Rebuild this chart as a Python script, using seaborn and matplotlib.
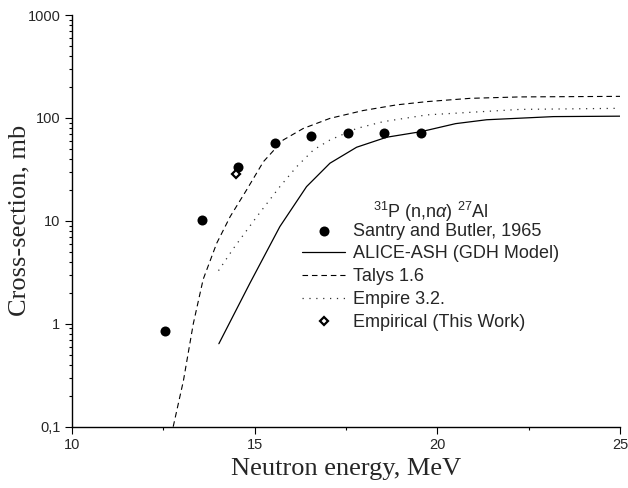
import numpy as np
import seaborn as sns
import matplotlib
matplotlib.use("Agg")
import matplotlib.pyplot as plt
from matplotlib.ticker import LogLocator, FixedLocator, FuncFormatter, NullFormatter

# Santry and Butler, 1965 (experimental)
santry_e = [12.55, 13.55, 14.55, 15.55, 16.55, 17.55, 18.55, 19.55]
santry_xs = [0.86, 10.2, 33.0, 56.5, 67.0, 72.0, 72.0, 72.0]

# ALICE-ASH (GDH model)
alice_e = [14.02, 14.87, 15.69, 16.42, 17.06, 17.79, 18.61, 19.56, 20.5, 21.35, 23.18, 25.0]
alice_xs = [0.64, 2.48, 8.8, 21.5, 36.3, 51.9, 64.9, 73.6, 88.0, 96.0, 103.0, 104.0]

# Talys 1.6
talys_e = [12.77, 13.05, 13.32, 13.59, 13.96, 14.33, 14.78, 15.24, 15.78, 16.33,
           17.06, 17.97, 18.89, 19.71, 20.9, 22.26, 25.0]
talys_xs = [0.1, 0.28, 1.0, 2.7, 6.05, 11.0, 20.0, 37.6, 61.0, 79.0,
            99.0, 118.0, 134.0, 144.0, 155.0, 160.0, 162.0]

# Empire 3.2.
empire_e = [14.01, 14.42, 15.06, 15.69, 16.15, 16.61, 17.06, 17.79, 18.52, 19.71, 22.26, 25.0]
empire_xs = [3.28, 5.4, 11.0, 21.5, 33.6, 48.9, 61.0, 79.0, 92.0, 107.0, 121.0, 124.0]

# Empirical (this work)
emp_e = [14.49]
emp_xs = [28.6]

sns.set_style("ticks")
plt.rcParams["font.family"] = ["Liberation Sans", "DejaVu Sans"]
plt.rcParams["mathtext.fontset"] = "custom"
plt.rcParams["mathtext.rm"] = "Liberation Sans"
plt.rcParams["mathtext.it"] = "Liberation Sans:italic"
plt.rcParams["mathtext.sf"] = "Liberation Sans"

fig = plt.figure(figsize=(6.28, 4.88), dpi=100)
ax = fig.add_axes([72 / 628, 1 - 426.7 / 488, (620 - 72) / 628, (426.7 - 15) / 488])

sns.scatterplot(x=santry_e, y=santry_xs, ax=ax, color="black", s=52, linewidth=0,
                marker="o", label="Santry and Butler, 1965", zorder=4)
sns.lineplot(x=alice_e, y=alice_xs, ax=ax, color="black", linewidth=0.9,
             label="ALICE-ASH (GDH Model)", sort=False)
sns.lineplot(x=talys_e, y=talys_xs, ax=ax, color="black", linewidth=0.8,
             linestyle=(0, (5, 3.5)), label="Talys 1.6", sort=False)
sns.lineplot(x=empire_e, y=empire_xs, ax=ax, color="#333333", linewidth=0.9,
             linestyle=(0, (1, 4.5)), label="Empire 3.2.", sort=False)
ax.plot(emp_e, emp_xs, linestyle="none", marker="D", markersize=4.5,
        markerfacecolor="white", markeredgecolor="black", markeredgewidth=1.6,
        label="Empirical (This Work)", zorder=5)

ax.set_yscale("log")
ax.set_xlim(10, 25)
ax.set_ylim(0.1, 1000)

ax.xaxis.set_major_locator(FixedLocator([10, 15, 20, 25]))
ax.xaxis.set_minor_locator(FixedLocator([12.5, 17.5, 22.5]))
ax.yaxis.set_major_locator(LogLocator(base=10, numticks=10))
ax.yaxis.set_minor_locator(LogLocator(base=10, subs=np.arange(2, 10), numticks=20))
ax.yaxis.set_major_formatter(FuncFormatter(lambda v, p: ("%g" % v).replace(".", ",")))
ax.yaxis.set_minor_formatter(NullFormatter())

ax.tick_params(axis="both", which="major", direction="out", length=4.8, width=0.8,
               labelsize=10.5, color="black", pad=3.5)
ax.tick_params(axis="both", which="minor", direction="out", length=2.4, width=0.8,
               color="black")

for side in ["top", "right"]:
    ax.spines[side].set_visible(False)
for side in ["left", "bottom"]:
    ax.spines[side].set_linewidth(1.0)
    ax.spines[side].set_color("black")

ax.set_xlabel("Neutron energy, MeV", family="Liberation Serif", fontsize=19, labelpad=4)
ax.set_ylabel("Cross-section, mb", family="Liberation Serif", fontsize=19)
ax.yaxis.set_label_coords((30 - 72) / 548, 0.5)

leg = ax.legend(loc="upper left", bbox_to_anchor=(302 / 628, 1 - 200 / 488),
                bbox_transform=fig.transFigure, frameon=False, fontsize=13,
                title=r"$^{31}$P (n,n$\alpha$) $^{27}$Al", title_fontsize=13,
                borderpad=0, handlelength=2.4, handletextpad=0.4,
                labelspacing=0.32, borderaxespad=0)
leg._legend_box.sep = -1

fig.savefig("out.png", dpi=100)
